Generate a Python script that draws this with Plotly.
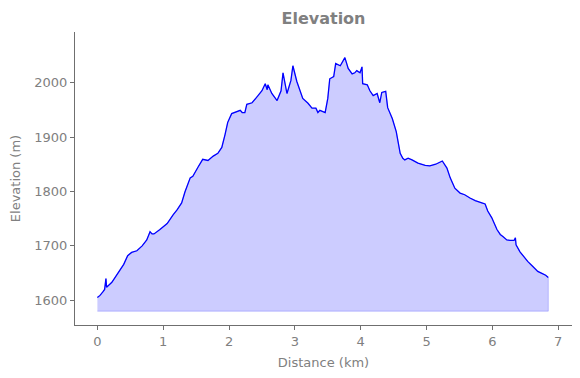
import plotly.graph_objects as go

# Elevation profile
distance_km = [0.00, 0.04, 0.08, 0.11, 0.13, 0.14, 0.22, 0.31, 0.40, 0.46,
               0.52, 0.60, 0.68, 0.75, 0.80, 0.83, 0.86, 0.95, 1.06, 1.15,
               1.21, 1.28, 1.33, 1.41, 1.45, 1.53, 1.60, 1.68, 1.76, 1.83,
               1.89, 1.94, 1.98, 2.04, 2.12, 2.17, 2.20, 2.24, 2.27, 2.35,
               2.44, 2.50, 2.55, 2.58, 2.59, 2.65, 2.73, 2.79, 2.82, 2.85,
               2.88, 2.94, 2.97, 3.03, 3.08, 3.12, 3.20, 3.26, 3.32, 3.35,
               3.38, 3.46, 3.50, 3.53, 3.59, 3.62, 3.69, 3.73, 3.76, 3.81,
               3.87, 3.91, 3.94, 3.99, 4.02, 4.03, 4.10, 4.14, 4.19, 4.25,
               4.29, 4.32, 4.38, 4.41, 4.48, 4.54, 4.58, 4.60, 4.64, 4.67,
               4.72, 4.78, 4.87, 4.98, 5.05, 5.14, 5.24, 5.31, 5.36, 5.43,
               5.51, 5.58, 5.66, 5.74, 5.84, 5.89, 5.93, 5.99, 6.07, 6.12,
               6.16, 6.22, 6.27, 6.33, 6.35, 6.36, 6.42, 6.48, 6.54, 6.60,
               6.65, 6.69, 6.76, 6.81, 6.85]
elevation_m = [1605, 1609, 1615, 1620, 1640, 1624, 1633, 1649, 1666, 1682,
               1688, 1691, 1700, 1711, 1726, 1722, 1722, 1730, 1741, 1757,
               1766, 1779, 1799, 1825, 1828, 1845, 1859, 1857, 1865, 1870,
               1881, 1905, 1927, 1943, 1947, 1949, 1945, 1945, 1960, 1963,
               1976, 1985, 1998, 1987, 1996, 1980, 1967, 1985, 2018, 1996,
               1980, 2004, 2031, 2002, 1984, 1971, 1962, 1953, 1953, 1945,
               1949, 1945, 1971, 2007, 2011, 2035, 2031, 2040, 2046, 2026,
               2016, 2018, 2022, 2018, 2029, 1998, 1996, 1985, 1976, 1980,
               1963, 1982, 1984, 1954, 1934, 1910, 1883, 1870, 1861, 1858,
               1861, 1858, 1852, 1848, 1847, 1850, 1856, 1843, 1825, 1806,
               1797, 1794, 1788, 1783, 1779, 1777, 1764, 1752, 1730, 1721,
               1717, 1711, 1710, 1710, 1715, 1702, 1689, 1679, 1671, 1664,
               1658, 1653, 1649, 1646, 1642]
fill_base_m = 1580
x_ticks = [0, 1, 2, 3, 4, 5, 6, 7]
y_ticks = [1600, 1700, 1800, 1900, 2000]

GRAY = "#808080"
FONT = "DejaVu Sans"

fig = go.Figure()
fig.add_trace(go.Scatter(
    x=distance_km + [distance_km[-1], distance_km[0]],
    y=elevation_m + [fill_base_m, fill_base_m],
    fill="toself", fillcolor="rgba(0,0,255,0.2)",
    line=dict(color="rgba(0,0,255,0.2)", width=1),
    mode="lines", hoverinfo="skip", showlegend=False))
fig.add_trace(go.Scatter(
    x=distance_km, y=elevation_m, mode="lines",
    line=dict(color="#0000ff", width=1.3), showlegend=False))

axis_common = dict(
    showgrid=False, zeroline=False, showline=True, linecolor="#6f6f6f",
    linewidth=1, ticks="outside", ticklen=4, tickwidth=1, tickcolor="#6f6f6f",
    tickfont=dict(family=FONT, size=13, color=GRAY),
    title_font=dict(family=FONT, size=13, color=GRAY),
)
H = 370
fig.update_layout(
    width=572, height=H,
    margin=dict(l=67, r=8, t=24, b=53),
    paper_bgcolor="white", plot_bgcolor="white",
    title=dict(text="<b>Elevation</b>", x=0.5, xref="paper", y=1 - 10 / H,
               yref="container", yanchor="middle", xanchor="center",
               font=dict(family=FONT, size=16, color=GRAY)),
    xaxis=dict(range=[-0.34, 7.21], tickvals=x_ticks, title_text="Distance (km)",
               title_standoff=10, **axis_common),
    yaxis=dict(range=[1554.6, 2093], tickvals=y_ticks, title_text="Elevation (m)",
               title_standoff=10, **axis_common),
)
fig.write_html("out.html")
